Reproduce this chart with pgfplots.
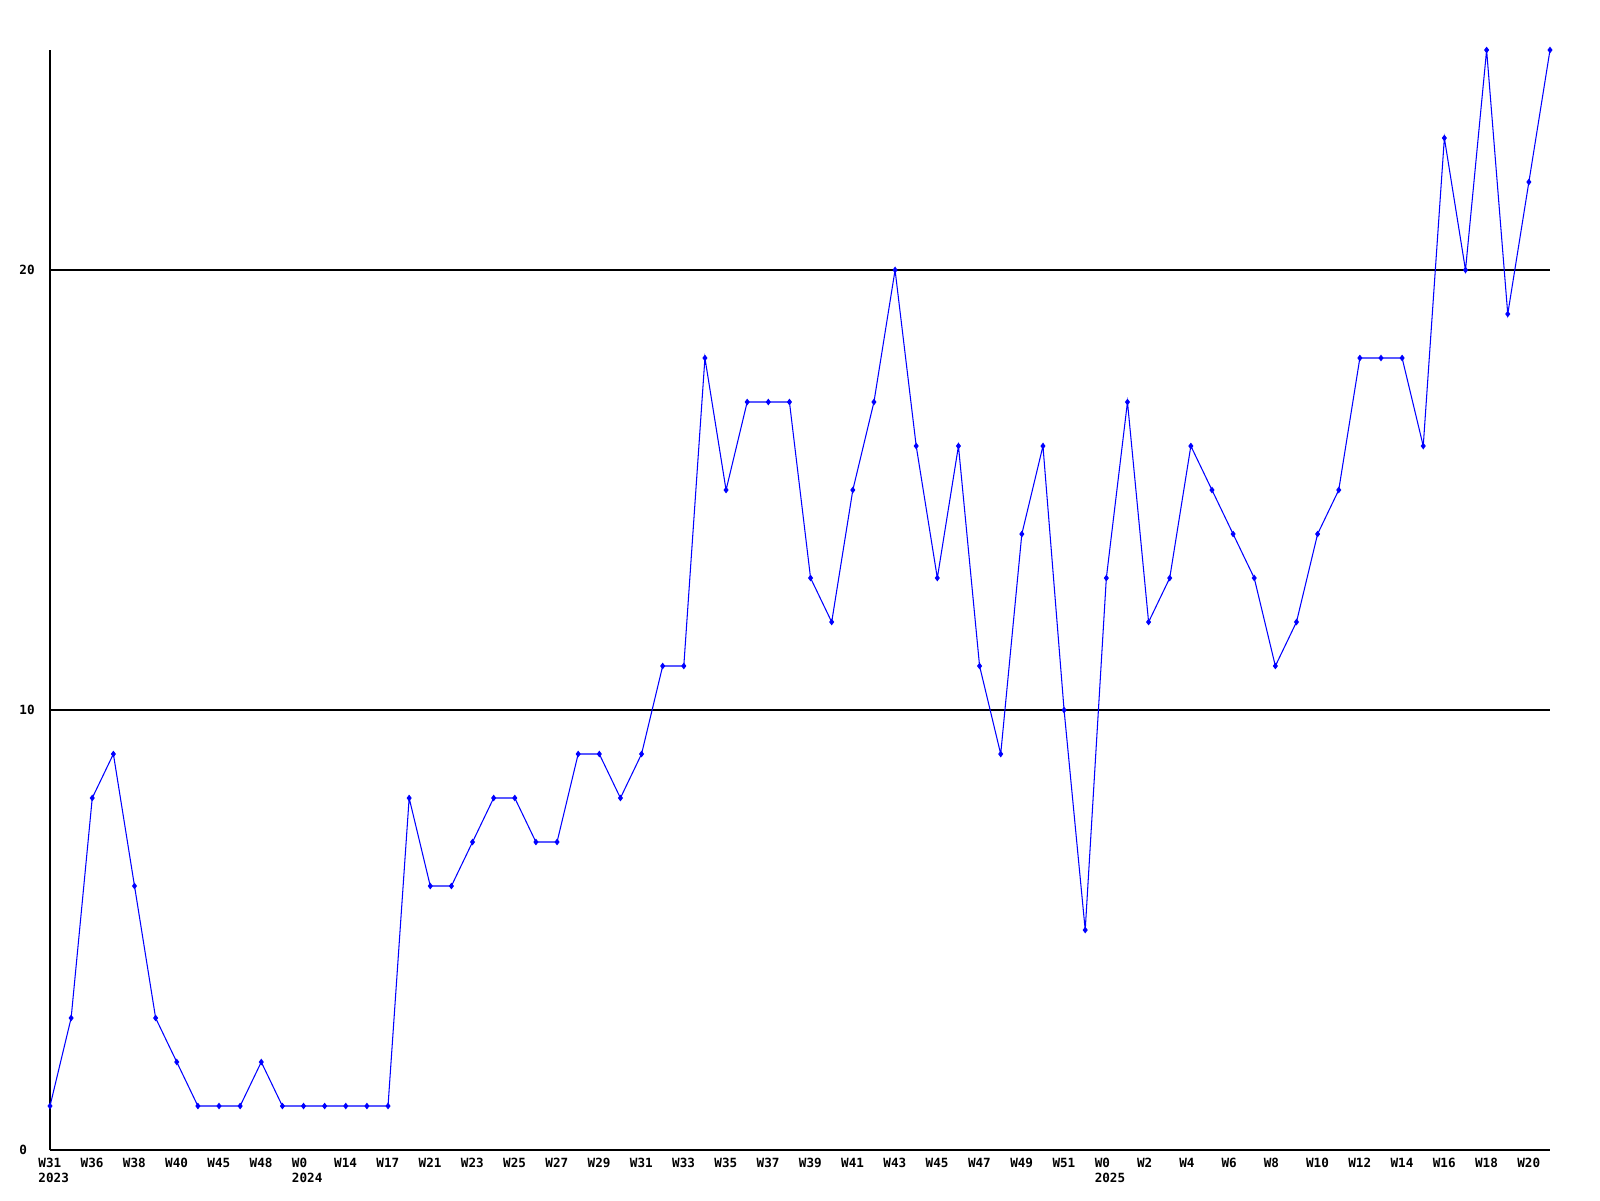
\documentclass[border=0pt]{standalone}
\usepackage{fontspec}
\setmainfont{DejaVu Sans Mono}
\usepackage{pgfplots}
\pgfplotsset{compat=1.18}
\usepackage{pgfplotstable}
\pgfplotstableread{
i v
0 1
1 3
2 8
3 9
4 6
5 3
6 2
7 1
8 1
9 1
10 2
11 1
12 1
13 1
14 1
15 1
16 1
17 8
18 6
19 6
20 7
21 8
22 8
23 7
24 7
25 9
26 9
27 8
28 9
29 11
30 11
31 18
32 15
33 17
34 17
35 17
36 13
37 12
38 15
39 17
40 20
41 16
42 13
43 16
44 11
45 9
46 14
47 16
48 10
49 5
50 13
51 17
52 12
53 13
54 16
55 15
56 14
57 13
58 11
59 12
60 14
61 15
62 18
63 18
64 18
65 16
66 23
67 20
68 25
69 19
70 22
71 25
}\datatable
\begin{document}
\begin{tikzpicture}
\useasboundingbox (0,0) rectangle (16cm,12cm);
\begin{axis}[
  at={(0.5cm,0.5cm)}, anchor=south west,
  scale only axis, width=15cm, height=11cm,
  xmin=0, xmax=71, ymin=0, ymax=25,
  axis lines*=left,
  axis line style={black, line width=0.3pt, -},
  xtick={0,2,...,70},
  xticklabels={{W31\\2023},W36,W38,W40,W45,W48,{W0\\2024},W14,W17,W21,W23,W25,W27,W29,W31,W33,W35,W37,W39,W41,W43,W45,W47,W49,W51,{W0\\2025},W2,W4,W6,W8,W10,W12,W14,W16,W18,W20},
  xticklabel style={font=\fontsize{3.6}{4.3}\selectfont\bfseries, align=left, anchor=north west, xshift=-2.4mm, yshift=0.4mm},
  ytick={0,10,20},
  yticklabels={0,10,20},
  yticklabel style={font=\fontsize{3.6}{4.6}\selectfont\bfseries, anchor=west, xshift=-4.3mm},
  major tick length=0pt,
  ymajorgrids, grid style={black, line width=0.3pt},
  clip=false,
]
\addplot[color={rgb,255:red,0;green,0;blue,255}, line width=0.3pt, mark=diamond*, mark size=0.25mm, mark options={solid}] table[x=i, y=v] {\datatable};
\end{axis}
\end{tikzpicture}
\end{document}
